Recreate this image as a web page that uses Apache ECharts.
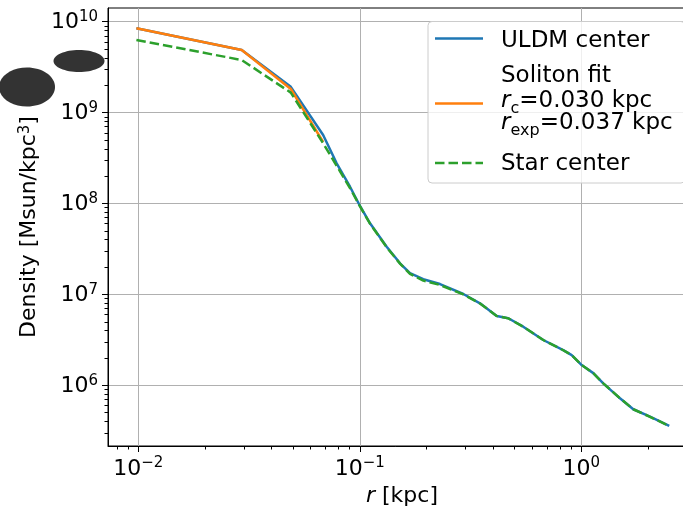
<!DOCTYPE html>
<html>
<head>
<meta charset="utf-8">
<title>Density profile</title>
<script src="https://cdn.jsdelivr.net/npm/echarts@6/dist/echarts.min.js"></script>
<style>
  html, body { margin: 0; padding: 0; background: #fff; }
  #chart { width: 683px; height: 510px; }
</style>
</head>
<body>
<div id="chart"></div>
<script>
// radius [kpc] and density [Msun/kpc^3]
const uldmR = [0.0098, 0.0293, 0.0488, 0.0683, 0.0786, 0.0903, 0.1002, 0.1112, 0.1322, 0.1519, 0.1685, 0.1935, 0.2302, 0.2934, 0.3488, 0.415, 0.4683, 0.5471, 0.6736, 0.8291, 0.9051, 1.004, 1.133, 1.257, 1.495, 1.717, 2.043, 2.496]
const uldmDensity = [8.46e9, 4.89e9, 1.92e9, 5.67e8, 2.77e8, 1.53e8, 9.39e7, 6.06e7, 3.35e7, 2.2e7, 1.71e7, 1.47e7, 1.3e7, 1.01e7, 7.98e6, 5.79e6, 5.46e6, 4.41e6, 3.15e6, 2.44e6, 2.15e6, 1.67e6, 1.36e6, 1.05e6, 7.19e5, 5.45e5, 4.51e5, 3.57e5]

const solitonR = [0.0098, 0.0293, 0.0488, 0.0683]
const solitonDensity = [8.46e9, 4.89e9, 1.82e9, 4.75e8]

const starR = [0.0098, 0.0293, 0.0488, 0.0683, 0.0786, 0.0903, 0.1002, 0.1112, 0.1322, 0.1519, 0.1685, 0.1935, 0.2302, 0.2934, 0.3488, 0.415, 0.4683, 0.5471, 0.6736, 0.8291, 0.9051, 1.004, 1.133, 1.257, 1.495, 1.717, 2.043, 2.496]
const starDensity = [6.3e9, 3.79e9, 1.66e9, 4.6e8, 2.6e8, 1.48e8, 9.3e7, 6.0e7, 3.3e7, 2.18e7, 1.68e7, 1.42e7, 1.27e7, 1.0e7, 7.95e6, 5.8e6, 5.45e6, 4.4e6, 3.15e6, 2.43e6, 2.15e6, 1.67e6, 1.36e6, 1.05e6, 7.2e5, 5.45e5, 4.5e5, 3.56e5]

// decade exponents for tick labels, and the visible log10 ranges
const xTickExps = [-2, -1, 0]
const yTickExps = [6, 7, 8, 9, 10]
const xLogRange = [-2.137, 0.518]
const yLogRange = [5.332, 10.151]

const font = 'DejaVu Sans'
const toLog = (rs, vs) => rs.map((r, i) => [Math.log10(r), Math.log10(vs[i])])

const minorTicks = (lo, hi) => {
	const out = []
	for (let e = Math.floor(lo); e < hi; e++) {
		for (let k = 2; k < 10; k++) {
			const v = e + Math.log10(k)
			if (v > lo && v < hi) out.push(v)
		}
	}
	return out
}

const powerLabel = v => {
	const e = Math.round(v)
	return '{b|10}{s|' + (e < 0 ? '\u2212' + -e : e) + '}'
}

const powerRich = {
	b: { fontSize: 22, lineHeight: 24, verticalAlign: 'bottom', fontFamily: font, color: '#000' },
	s: { fontSize: 15, lineHeight: 12, verticalAlign: 'top', fontFamily: font, color: '#000' }
}

const gridLine = { show: true, lineStyle: { color: '#b0b0b0', width: 1 } }

const majorAxis = (range, exps) => ({
	type: 'value',
	min: range[0],
	max: range[1],
	axisLine: { show: true, onZero: false, lineStyle: { color: '#000', width: 1 } },
	axisTick: { show: true, length: 6, customValues: exps, lineStyle: { color: '#000' } },
	axisLabel: { customValues: exps, margin: 10, formatter: powerLabel, rich: powerRich },
	splitLine: gridLine
})

const minorAxis = range => ({
	type: 'value',
	min: range[0],
	max: range[1],
	axisLine: { show: false, onZero: false },
	axisTick: { show: true, length: 3.5, customValues: minorTicks(range[0], range[1]), lineStyle: { color: '#000' } },
	axisLabel: { show: false },
	splitLine: { show: false }
})

const lineSeries = (name, data, color, dashed) => ({
	name: name,
	type: 'line',
	data: data,
	symbol: 'none',
	xAxisIndex: 0,
	yAxisIndex: 0,
	lineStyle: { color: color, width: 2.5, type: dashed ? [9.5, 4] : 'solid' },
	itemStyle: { color: color }
})

const legendText = (x, y, text, rich) => ({
	type: 'text',
	x: x,
	y: y,
	z: 101,
	style: { text: text, fontSize: 23, fontFamily: font, fill: '#000', verticalAlign: 'top', rich: rich }
})

const mathRich = {
	i: { fontSize: 23, fontStyle: 'italic', verticalAlign: 'top', fontFamily: font },
	n: { fontSize: 23, verticalAlign: 'top', fontFamily: font },
	s: { fontSize: 16, lineHeight: 27, verticalAlign: 'bottom', fontFamily: font }
}

const options = {
	animation: false,
	backgroundColor: '#fff',
	grid: {
		left: 108, top: 8, width: 588, height: 438,
		outerBoundsMode: 'none',
		show: true, borderColor: '#000', borderWidth: 1, backgroundColor: 'transparent'
	},
	xAxis: [
		Object.assign(majorAxis(xLogRange, xTickExps), {
			position: 'bottom',
			name: '{i|r} [kpc]',
			nameLocation: 'middle',
			nameGap: 36,
			nameTextStyle: {
				fontSize: 22, fontFamily: font, color: '#000',
				rich: { i: { fontSize: 22, fontStyle: 'italic', fontFamily: font, color: '#000' } }
			}
		}),
		Object.assign(minorAxis(xLogRange), { position: 'bottom' })
	],
	yAxis: [
		Object.assign(majorAxis(yLogRange, yTickExps), {
			position: 'left',
			name: 'Density [Msun/kpc{s|3}]',
			nameLocation: 'middle',
			nameRotate: 90,
			nameGap: 68,
			nameTextStyle: {
				fontSize: 22, fontFamily: font, color: '#000', verticalAlign: 'bottom',
				rich: {
					s: { fontSize: 15, lineHeight: 12, verticalAlign: 'top', fontFamily: font, color: '#000' }
				}
			}
		}),
		Object.assign(minorAxis(yLogRange), { position: 'left' })
	],
	series: [
		lineSeries('ULDM center', toLog(uldmR, uldmDensity), '#1f77b4', false),
		lineSeries('Soliton fit', toLog(solitonR, solitonDensity), '#ff7f0e', false),
		lineSeries('Star center', toLog(starR, starDensity), '#2ca02c', true)
	],
	graphic: [
		// legend box
		{ type: 'rect', z: 100, shape: { x: 428, y: 21.5, width: 257, height: 161.5, r: 4 }, style: { fill: 'rgba(255,255,255,0.8)', stroke: '#cccccc', lineWidth: 1 } },
		{ type: 'line', z: 101, shape: { x1: 435, y1: 38.5, x2: 483, y2: 38.5 }, style: { stroke: '#1f77b4', lineWidth: 2.5 } },
		{ type: 'line', z: 101, shape: { x1: 435, y1: 103.5, x2: 483, y2: 103.5 }, style: { stroke: '#ff7f0e', lineWidth: 2.5 } },
		{ type: 'line', z: 101, shape: { x1: 435, y1: 163, x2: 483, y2: 163 }, style: { stroke: '#2ca02c', lineWidth: 2.5, lineDash: [9.5, 4] } },
		legendText(501, 29.5, 'ULDM center'),
		legendText(501, 64.5, 'Soliton fit'),
		legendText(501, 90, '{i|r}{s|c}{n|=0.030 kpc}', mathRich),
		legendText(501, 111.5, '{i|r}{s|exp}{n|=0.037 kpc}', mathRich),
		legendText(501, 152.5, 'Star center'),
		// dark blots over the corner
		{ type: 'ellipse', z: 200, shape: { cx: 27, cy: 87, rx: 28, ry: 19.5 }, style: { fill: '#333333' } },
		{ type: 'ellipse', z: 200, shape: { cx: 79, cy: 61, rx: 25.5, ry: 11 }, style: { fill: '#333333' } }
	]
}

echarts.init(document.getElementById('chart')).setOption(options)
</script>
</body>
</html>
